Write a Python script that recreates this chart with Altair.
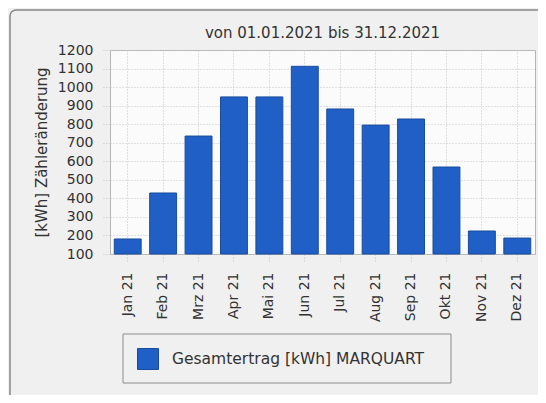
import altair as alt
import pandas as pd

months = ["Jan 21", "Feb 21", "Mrz 21", "Apr 21", "Mai 21", "Jun 21",
          "Jul 21", "Aug 21", "Sep 21", "Okt 21", "Nov 21", "Dez 21"]
values = [181, 429, 736, 947, 947, 1112, 882, 795, 828, 569, 224, 186]
series_name = "Gesamtertrag [kWh] MARQUART"
chart_title = "von 01.01.2021 bis 31.12.2021"
y_ticks = [100, 200, 300, 400, 500, 600, 700, 800, 900, 1000, 1100, 1200]

df = pd.DataFrame({"Monat": months, "Wert": values, "Serie": [series_name] * len(months)})

FONT = "DejaVu Sans"
W, H = 425, 204
BAR = "#1f5fc6"
BAR_EDGE = "#1a4c9c"

bars = alt.Chart(df).mark_bar(stroke=BAR_EDGE, strokeWidth=1).encode(
    x=alt.X(
        "Monat:N", sort=months, title=None,
        scale=alt.Scale(paddingInner=0.24, paddingOuter=0.12),
        axis=alt.Axis(
            labelAngle=-90, labelAlign="right", labelBaseline="middle",
            labelFont=FONT, labelFontSize=14, labelColor="#333",
            labelPadding=10, tickSize=8, tickColor="#c0c0c0", tickDash=[1, 2],
            grid=True, gridColor="#c4c4c4", gridDash=[1, 2], bandPosition=0.5,
            domain=False,
        ),
    ),
    y=alt.Y(
        "Wert:Q",
        scale=alt.Scale(domain=[100, 1200], zero=False, nice=False),
        title="[kWh] Zähleränderung",
        axis=alt.Axis(
            values=y_ticks, format="d", labelFont=FONT, labelFontSize=14,
            labelColor="#333",
            labelPadding=9, tickSize=8, tickColor="#c0c0c0", tickDash=[1, 2],
            grid=True, gridColor="#c4c4c4", gridDash=[1, 2], domain=False,
            titleFont=FONT, titleFontSize=15, titleFontWeight="normal",
            titleColor="#333", titlePadding=8,
        ),
    ),
    y2=alt.datum(100),
    color=alt.Color(
        "Serie:N",
        scale=alt.Scale(range=[BAR]),
        legend=alt.Legend(
            title=None, orient="none", legendX=13, legendY=284,
            symbolType="square", symbolSize=441, symbolStrokeColor=BAR_EDGE,
            symbolStrokeWidth=1, labelFont=FONT, labelFontSize=15.5,
            labelColor="#333", labelOffset=13, labelLimit=400, padding=14,
        ),
    ),
)

one = pd.DataFrame({"k": [0]})

frame = alt.Chart(one).mark_rect(
    fill="transparent", stroke="#888888", strokeWidth=1.5, cornerRadius=6
).encode(
    x=alt.value(-100), x2=alt.value(700),
    y=alt.value(-40), y2=alt.value(400),
)

legend_box = alt.Chart(one).mark_rect(
    fill="transparent", stroke="#8c8c8c", strokeWidth=1
).encode(
    x=alt.value(13), x2=alt.value(341),
    y=alt.value(284), y2=alt.value(333),
)

title = alt.Chart(one).mark_text(
    font=FONT, fontSize=15, color="#333", align="center", baseline="middle"
).encode(
    x=alt.value(W / 2), y=alt.value(-17), text=alt.value(chart_title),
)

chart = alt.layer(bars, legend_box, frame, title).properties(
    width=W, height=H,
    autosize=alt.AutoSizeParams(type="none"),
    padding={"left": 102, "top": 42, "right": 3, "bottom": 141},
).configure(
    background="#f0f0f0",
).configure_view(
    stroke="#b4b4b4", fill="#fbfbfb",
)

chart.save("out.html", embed_options={"renderer": "svg", "actions": False})
